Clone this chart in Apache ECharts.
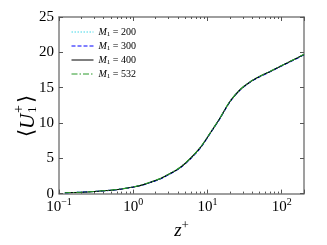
<!DOCTYPE html>
<html><head><meta charset="utf-8">
<script src="https://cdn.jsdelivr.net/npm/echarts@6/dist/echarts.min.js"></script>
<style>html,body{margin:0;padding:0;background:#fff}#c{width:327px;height:245px}</style>
</head><body><div id="c"></div>
<script>
const zPlus = [0.12,0.2,0.3,0.5,0.7,1,1.3,1.7,2.3,3.1,4.3,5.8,8,10.8,14.8,20,27.5,37.5,51,70,95,130,177,200];
const U_M200 = [0.12,0.2,0.3,0.48,0.66,0.93,1.2,1.6,2.1,2.8,3.7,4.9,6.5,8.5,10.7,13.0,14.7,15.8,16.6,17.3,18.0,18.7,19.4,19.7];
const U_M300 = [0.12,0.2,0.3,0.47,0.65,0.92,1.18,1.57,2.06,2.75,3.64,4.84,6.44,8.45,10.65,12.95,14.65,15.75,16.55,17.25,17.95,18.65,19.35,19.65];
const U_M400 = [0.12,0.2,0.3,0.48,0.66,0.93,1.2,1.6,2.1,2.8,3.7,4.9,6.5,8.5,10.7,13.0,14.7,15.8,16.6,17.3,18.0,18.7,19.4,19.7];
const U_M532 = [0.12,0.2,0.31,0.49,0.67,0.94,1.22,1.62,2.12,2.83,3.73,4.93,6.53,8.53,10.73,13.03,14.72,15.82,16.62,17.32,18.02,18.72,19.42,19.73];
const seriesNames = ['200','300','400','532'];
const yTicks = [0,5,10,15,20,25];

const F = 'Liberation Serif';
function pairs(u){ return zPlus.map((z,i)=>[z,u[i]]); }
const styles = [
  {color:'#40d8e8', type:[1.5,1.5]},
  {color:'#0000ff', type:[4,2]},
  {color:'#000000', type:'solid'},
  {color:'#2a9a2a', type:[6,2,1.5,2]}
];
const data = [U_M200,U_M300,U_M400,U_M532];
const chart = echarts.init(document.getElementById('c'), null, {renderer:'canvas'});
const axisLineStyle = {color:'#7f7f7f', width:1.5};
const tickStyle = {color:'#555', width:1};
function gtext(x, y, text, size, italic, align, valign){
  return {type:'text', x:x, y:y, style:{text:text, fill:'#000',
    font:(italic?'italic ':'')+size+'px "'+F+'"', textAlign:align||'left', textVerticalAlign:valign||'middle'}};
}
chart.setOption({
  animation:false,
  textStyle:{fontFamily:F},
  grid:{left:59,right:23,top:17,bottom:45},
  graphic:[{
    type:'group', x:27, y:110, rotation:Math.PI/2, silent:true,
    children:[
      gtext(-27, 0, '\u27E8', 21, false, 'left', 'middle'),
      gtext(-19, 1, 'U', 21, true, 'left', 'middle'),
      gtext(-3, 6, '1', 13, false, 'left', 'middle'),
      gtext(-3, -8, '+', 14, false, 'left', 'middle'),
      gtext(7, 0, '\u27E9', 21, false, 'left', 'middle')
    ]
  }],
  legend:{
    left:66, top:22, orient:'vertical', itemGap:3.5, itemWidth:22, itemHeight:10,
    itemStyle:{opacity:0}, lineStyle:{width:1},
    data: seriesNames.map(n=>'M'+n),
    formatter: function(name){ return '{i|M}{s|1}{n| = '+name.slice(1)+'}'; },
    textStyle:{fontFamily:F, fontSize:10, color:'#000', rich:{
      i:{fontStyle:'italic', fontFamily:F, fontSize:10},
      s:{fontFamily:F, fontSize:7, verticalAlign:'bottom', padding:[4,0,0,0]},
      n:{fontFamily:F, fontSize:10}
    }}
  },
  xAxis:[{
    type:'log', logBase:10, min:0.1, max:200, position:'bottom',
    name:'{z|z}{p|+}', nameLocation:'middle', nameGap:22,
    nameTextStyle:{rich:{
      z:{fontStyle:'italic', fontFamily:F, fontSize:19, color:'#000'},
      p:{fontFamily:F, fontSize:13, color:'#000', verticalAlign:'top', padding:[0,0,10,0]}
    }},
    axisLine:{onZero:false, lineStyle:axisLineStyle},
    axisTick:{inside:true, length:4, lineStyle:tickStyle},
    minorTick:{show:true, splitNumber:9, length:2, lineStyle:tickStyle},
    splitLine:{show:false},
    axisLabel:{margin:4, color:'#000', formatter:function(v){
      const e = Math.round(Math.log10(v));
      if (Math.abs(Math.log10(v)-e)>1e-6) return '';
      return '{b|10}{e|'+(e<0?'\u2212'+(-e):e)+'}';
    }, rich:{
      b:{fontFamily:F, fontSize:15, color:'#000'},
      e:{fontFamily:F, fontSize:10, color:'#000', verticalAlign:'top', padding:[0,0,8,0]}
    }}
  },{
    type:'log', logBase:10, min:0.1, max:200, position:'top',
    axisLine:{onZero:false, lineStyle:axisLineStyle},
    axisTick:{inside:true, length:4, lineStyle:tickStyle},
    minorTick:{show:true, splitNumber:9, length:2, lineStyle:tickStyle},
    axisLabel:{show:false}, splitLine:{show:false}
  }],
  yAxis:[{
    type:'value', min:0, max:25, interval:5, position:'left',
    axisLine:{show:true, onZero:false, lineStyle:axisLineStyle},
    axisTick:{show:true, inside:true, length:4, lineStyle:tickStyle},
    splitLine:{show:false},
    axisLabel:{margin:5, color:'#000', fontFamily:F, fontSize:15, formatter:function(v){ return yTicks.indexOf(v)>=0 ? String(v) : ''; }}
  },{
    type:'value', min:0, max:25, interval:5, position:'right',
    axisLine:{show:true, onZero:false, lineStyle:axisLineStyle},
    axisTick:{show:true, inside:true, length:4, lineStyle:tickStyle},
    splitLine:{show:false}, axisLabel:{show:false}
  }],
  series: seriesNames.map((n,i)=>({
    name:'M'+n, type:'line', smooth:0.3, showSymbol:false, symbol:'none',
    data:pairs(data[i]), xAxisIndex:0, yAxisIndex:0,
    lineStyle:{color:styles[i].color, type:styles[i].type, width:1.1},
    itemStyle:{color:styles[i].color}
  }))
});
</script></body></html>
